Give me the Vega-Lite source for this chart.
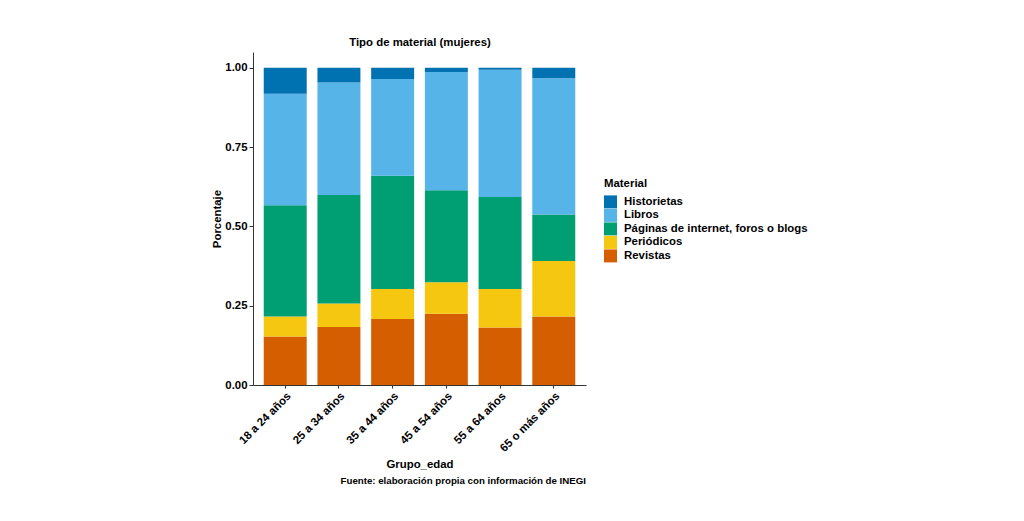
{
  "$schema": "https://vega.github.io/schema/vega-lite/v6.json",
  "width": 333,
  "height": 333,
  "autosize": {"type": "none"},
  "padding": {"left": 253, "top": 52, "right": 438, "bottom": 136},
  "background": "white",
  "title": {
    "text": "Fuente: elaboración propia con información de INEGI",
    "orient": "bottom",
    "anchor": "end",
    "frame": "group",
    "fontSize": 9.7,
    "fontWeight": "bold",
    "font": "Liberation Sans",
    "color": "black",
    "offset": 6
  },
  "config": {
    "view": {"stroke": null},
    "font": "Liberation Sans",
    "axis": {
      "domainColor": "#333333",
      "tickColor": "#333333",
      "labelColor": "black",
      "labelFont": "Liberation Sans",
      "labelFontWeight": "bold",
      "labelFontSize": 11.4,
      "titleFont": "Liberation Sans",
      "titleFontSize": 11.4,
      "titleFontWeight": "bold",
      "titleColor": "black",
      "tickSize": 4,
      "labelPadding": 2,
      "grid": false
    },
    "legend": {
      "titleFont": "Liberation Sans",
      "labelFont": "Liberation Sans",
      "titleFontSize": 11.4,
      "titleFontWeight": "bold",
      "labelFontSize": 11.4,
      "labelFontWeight": "bold",
      "titleColor": "black",
      "labelColor": "black",
      "labelLimit": 0,
      "symbolType": "square",
      "symbolSize": 169,
      "symbolStrokeWidth": 0,
      "symbolOpacity": 1,
      "rowPadding": 0.5,
      "labelOffset": 7,
      "titlePadding": 6,
      "padding": 0
    }
  },
  "data": {
    "values": [
      {"Grupo_edad": "18 a 24 años", "Material": "Revistas", "Porcentaje": 0.153},
      {"Grupo_edad": "18 a 24 años", "Material": "Periódicos", "Porcentaje": 0.063},
      {"Grupo_edad": "18 a 24 años", "Material": "Páginas de internet, foros o blogs", "Porcentaje": 0.351},
      {"Grupo_edad": "18 a 24 años", "Material": "Libros", "Porcentaje": 0.351},
      {"Grupo_edad": "18 a 24 años", "Material": "Historietas", "Porcentaje": 0.082},
      {"Grupo_edad": "25 a 34 años", "Material": "Revistas", "Porcentaje": 0.183},
      {"Grupo_edad": "25 a 34 años", "Material": "Periódicos", "Porcentaje": 0.074},
      {"Grupo_edad": "25 a 34 años", "Material": "Páginas de internet, foros o blogs", "Porcentaje": 0.342},
      {"Grupo_edad": "25 a 34 años", "Material": "Libros", "Porcentaje": 0.355},
      {"Grupo_edad": "25 a 34 años", "Material": "Historietas", "Porcentaje": 0.046},
      {"Grupo_edad": "35 a 44 años", "Material": "Revistas", "Porcentaje": 0.208},
      {"Grupo_edad": "35 a 44 años", "Material": "Periódicos", "Porcentaje": 0.095},
      {"Grupo_edad": "35 a 44 años", "Material": "Páginas de internet, foros o blogs", "Porcentaje": 0.357},
      {"Grupo_edad": "35 a 44 años", "Material": "Libros", "Porcentaje": 0.305},
      {"Grupo_edad": "35 a 44 años", "Material": "Historietas", "Porcentaje": 0.035},
      {"Grupo_edad": "45 a 54 años", "Material": "Revistas", "Porcentaje": 0.225},
      {"Grupo_edad": "45 a 54 años", "Material": "Periódicos", "Porcentaje": 0.099},
      {"Grupo_edad": "45 a 54 años", "Material": "Páginas de internet, foros o blogs", "Porcentaje": 0.290},
      {"Grupo_edad": "45 a 54 años", "Material": "Libros", "Porcentaje": 0.373},
      {"Grupo_edad": "45 a 54 años", "Material": "Historietas", "Porcentaje": 0.013},
      {"Grupo_edad": "55 a 64 años", "Material": "Revistas", "Porcentaje": 0.181},
      {"Grupo_edad": "55 a 64 años", "Material": "Periódicos", "Porcentaje": 0.122},
      {"Grupo_edad": "55 a 64 años", "Material": "Páginas de internet, foros o blogs", "Porcentaje": 0.290},
      {"Grupo_edad": "55 a 64 años", "Material": "Libros", "Porcentaje": 0.401},
      {"Grupo_edad": "55 a 64 años", "Material": "Historietas", "Porcentaje": 0.006},
      {"Grupo_edad": "65 o más años", "Material": "Revistas", "Porcentaje": 0.216},
      {"Grupo_edad": "65 o más años", "Material": "Periódicos", "Porcentaje": 0.175},
      {"Grupo_edad": "65 o más años", "Material": "Páginas de internet, foros o blogs", "Porcentaje": 0.147},
      {"Grupo_edad": "65 o más años", "Material": "Libros", "Porcentaje": 0.429},
      {"Grupo_edad": "65 o más años", "Material": "Historietas", "Porcentaje": 0.033}
    ]
  },
  "transform": [
    {"calculate": "indexof(['Revistas', 'Periódicos', 'Páginas de internet, foros o blogs', 'Libros', 'Historietas'], datum.Material)", "as": "orden"}
  ],
  "layer": [
    {
      "mark": {"type": "bar"},
      "encoding": {
        "x": {
          "field": "Grupo_edad",
          "type": "nominal",
          "scale": {"paddingInner": 0.2, "paddingOuter": 0.2},
          "axis": {"labelAngle": -45, "title": "Grupo_edad", "titlePadding": 5, "tickSize": 3}
        },
        "y": {
          "field": "Porcentaje",
          "type": "quantitative",
          "stack": "zero",
          "scale": {"domain": [0, 1.05], "nice": false},
          "axis": {"values": [0, 0.25, 0.5, 0.75, 1], "format": ".2f", "title": "Porcentaje", "titlePadding": 2}
        },
        "color": {
          "field": "Material",
          "type": "nominal",
          "scale": {
            "domain": ["Historietas", "Libros", "Páginas de internet, foros o blogs", "Periódicos", "Revistas"],
            "range": ["#0072B2", "#56B4E9", "#009E73", "#F5C710", "#D55E00"]
          },
          "legend": {"title": "Material", "orient": "none", "legendX": 351, "legendY": 126}
        },
        "order": {"field": "orden", "type": "quantitative"}
      }
    },
    {
      "mark": {"type": "bar", "opacity": 0},
      "encoding": {
        "x": {
          "field": "Grupo_edad",
          "type": "nominal",
          "axis": {
            "orient": "top",
            "title": "Tipo de material (mujeres)",
            "labels": false,
            "ticks": false,
            "domain": false,
            "titlePadding": 5
          }
        }
      }
    }
  ],
  "resolve": {"axis": {"x": "independent"}}
}
